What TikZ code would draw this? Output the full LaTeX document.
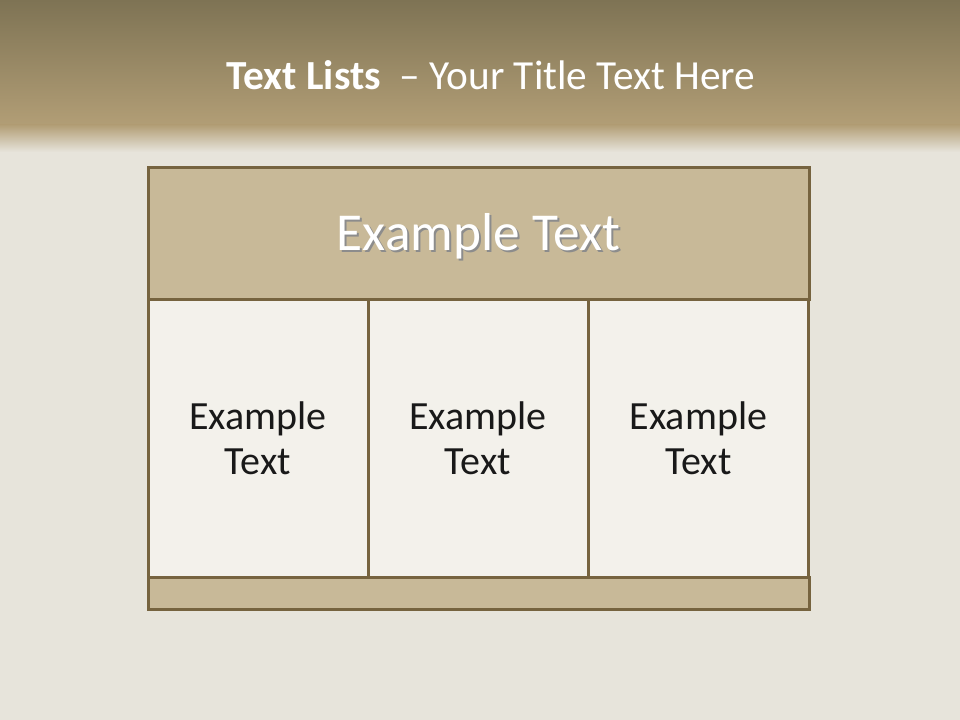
\documentclass[tikz,border=0pt]{standalone}
\usepackage{fontspec}
\setmainfont{Carlito}
\usepackage{xcolor}
\usetikzlibrary{positioning,calc}

\definecolor{bandtop}{HTML}{7E7354}
\definecolor{bandlow}{HTML}{B29E76}
\definecolor{linen}{HTML}{E7E4DB}
\definecolor{frame}{HTML}{76633F}
\definecolor{tan}{HTML}{C8B998}
\definecolor{cream}{HTML}{F3F1EB}

\begin{document}
\begin{tikzpicture}[
    x=0.75pt, y=-0.75pt,
    panel/.style={rectangle, draw=frame, line width=2.25pt, inner sep=0pt},
    headbox/.style={panel, fill=tan, minimum width=495.75pt, minimum height=99pt},
    cell/.style={panel, fill=cream, minimum width=165pt, minimum height=207.75pt,
                 align=center, font=\fontsize{30}{34}\selectfont, text=black!90},
    footbox/.style={panel, fill=tan, minimum width=495.75pt, minimum height=24pt}
]

\useasboundingbox (0,0) rectangle (960,720);

% Background
\fill[linen] (0,0) rectangle (960,720);
\fill[top color=bandtop, bottom color=bandlow] (0,0) rectangle (960,126);
\fill[top color=bandlow, bottom color=linen] (0,125) rectangle (960,152);

% Title
\node[text=white, font=\fontsize{31}{36}\selectfont] (title) at (491,75)
    {\textbf{Text Lists} \ -- Your Title Text Here};

% Header
\node[headbox] (header) at (478.5,234) {};
\node[text=black!45, font=\fontsize{40}{48}\selectfont] (headshade) at ($(header)+(2,4)$) {Example Text};
\node[text=white, font=\fontsize{40}{48}\selectfont] (headtext) at ($(header)+(0,2)$) {Example Text};

% Cells
\node[cell] (cellA) at (258,438.5) {Example\\Text};
\node[cell] (cellB) at (478,438.5) {Example\\Text};
\node[cell] (cellC) at (698.5,438.5) {Example\\Text};

% Footer
\node[footbox] (footer) at (478.5,593) {};

\end{tikzpicture}
\end{document}
